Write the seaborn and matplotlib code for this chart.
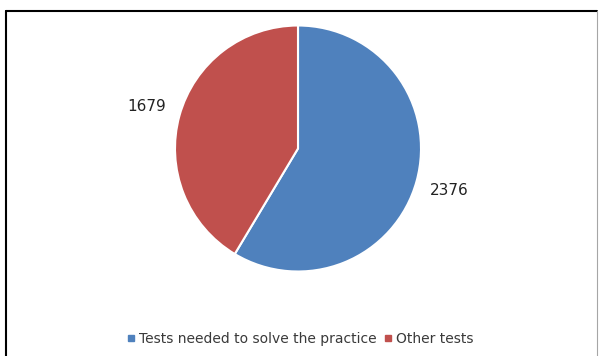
import matplotlib
matplotlib.use("Agg")
import matplotlib.pyplot as plt
from matplotlib.lines import Line2D
import seaborn as sns

categories = ["Tests needed to solve the practice", "Other tests"]
counts = [2376, 1679]
colors = ["#4F81BD", "#C0504D"]

sns.set_style("white")
plt.rcParams["font.family"] = ["DejaVu Sans"]

W, H = 600, 356
fig = plt.figure(figsize=(W / 100, H / 100), dpi=100)

# pie axes: centre and radius in pixels
cx, cy, r = 298, 148.5, 123
ax = fig.add_axes([(cx - r) / W, (H - cy - r) / H, 2 * r / W, 2 * r / H])

total = sum(counts)
wedges, _, autotexts = ax.pie(
    counts,
    colors=colors,
    startangle=90,
    counterclock=False,
    autopct=lambda p: f"{round(p * total / 100)}",
    pctdistance=1.28,
    wedgeprops=dict(edgecolor="white", linewidth=1.5),
    textprops=dict(fontsize=11, color="#222222"),
)
ax.set_xlim(-1, 1)
ax.set_ylim(-1, 1)
ax.axis("off")
for t in autotexts:
    t.set_clip_on(False)

# legend below the pie
handles = [Line2D([], [], marker="s", linestyle="", markersize=4,
                  markerfacecolor=c, markeredgecolor=c) for c in colors]
fig.legend(handles, categories, loc="center", bbox_to_anchor=(0.5, 1 - 339 / H),
           ncol=2, frameon=False, fontsize=10, handlelength=0.6, handletextpad=0.3,
           columnspacing=0.5, labelcolor="#3a3a3a")

# chart frame: black top and left edges, grey right edge
top = 1 - 10.5 / H
fig.add_artist(Line2D([5.5 / W, 597 / W], [top, top], color="black", linewidth=1.5,
                      transform=fig.transFigure))
fig.add_artist(Line2D([5.5 / W, 5.5 / W], [0, top], color="black", linewidth=1.5,
                      transform=fig.transFigure))
fig.add_artist(Line2D([597 / W, 597 / W], [0, top], color="#a6a6a6", linewidth=0.8,
                      transform=fig.transFigure))

fig.savefig("out.png", dpi=100)
